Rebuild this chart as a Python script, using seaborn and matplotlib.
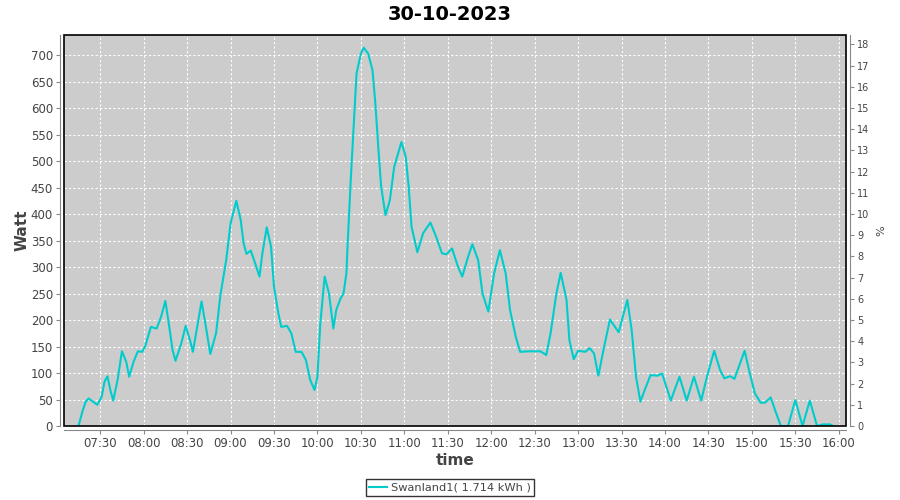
import matplotlib
matplotlib.use("Agg")
import matplotlib.pyplot as plt
import matplotlib.dates as mdates
from matplotlib.patches import Rectangle
import seaborn as sns
import pandas as pd

title = "30-10-2023"
series_name = "Swanland1( 1.714 kWh )"

times = ["07:15", "07:18", "07:20", "07:22", "07:28", "07:31", "07:33", "07:35",
         "07:37", "07:39", "07:42", "07:45", "07:48", "07:50", "07:53", "07:56",
         "07:59", "08:01", "08:05", "08:09", "08:12", "08:15", "08:17", "08:20",
         "08:22", "08:26", "08:29", "08:32", "08:34", "08:37", "08:40", "08:43",
         "08:46", "08:50", "08:53", "08:57", "09:00", "09:04", "09:07", "09:09",
         "09:11", "09:14", "09:17", "09:20", "09:22", "09:25", "09:28", "09:30",
         "09:33", "09:35", "09:39", "09:42", "09:45", "09:49", "09:52", "09:55",
         "09:58", "10:00", "10:02", "10:05", "10:08", "10:11", "10:13", "10:16",
         "10:18", "10:20", "10:21", "10:23", "10:25", "10:27", "10:30", "10:32",
         "10:35", "10:38", "10:40", "10:42", "10:44", "10:47", "10:50", "10:53",
         "10:58", "11:01", "11:03", "11:05", "11:09", "11:13", "11:18", "11:22",
         "11:26", "11:29", "11:33", "11:37", "11:40", "11:44", "11:47", "11:51",
         "11:54", "11:58", "12:02", "12:06", "12:10", "12:13", "12:17", "12:20",
         "12:26", "12:34", "12:38", "12:41", "12:45", "12:48", "12:52", "12:54",
         "12:57", "13:00", "13:05", "13:08", "13:11", "13:14", "13:18", "13:22",
         "13:28", "13:34", "13:37", "13:40", "13:43", "13:46", "13:50", "13:55",
         "13:58", "14:01", "14:04", "14:10", "14:15", "14:20", "14:25", "14:29",
         "14:34", "14:38", "14:41", "14:45", "14:48", "14:51", "14:55", "14:58",
         "15:02", "15:06", "15:09", "15:13", "15:16", "15:20", "15:25", "15:30",
         "15:35", "15:40", "15:45", "15:49", "15:54", "15:56"]
watts = [0, 30, 46, 52, 40, 55, 84, 94,
         68, 48, 87, 141, 121, 93, 121, 141,
         140, 150, 187, 184, 206, 236, 200, 143,
         123, 156, 189, 162, 140, 187, 235, 187,
         136, 175, 247, 313, 382, 425, 389, 345,
         325, 331, 307, 282, 326, 375, 338, 263,
         213, 187, 189, 175, 140, 140, 125, 87,
         68, 93, 194, 282, 250, 184, 219, 241,
         250, 288, 351, 464, 565, 665, 703, 714,
         703, 672, 609, 527, 452, 398, 426, 489,
         536, 508, 452, 376, 328, 364, 384, 357,
         326, 324, 335, 301, 282, 319, 343, 313,
         250, 216, 288, 332, 288, 219, 168, 140,
         141, 141, 134, 175, 250, 289, 238, 162,
         126, 142, 140, 147, 137, 95, 150, 201,
         177, 238, 181, 93, 46, 68, 96, 95,
         99, 74, 48, 93, 48, 93, 48, 93,
         142, 106, 90, 94, 89, 112, 142, 106,
         62, 44, 44, 54, 30, 0, 0, 49,
         0, 48, 0, 3, 3, 0]

x_ticks = ["07:30", "08:00", "08:30", "09:00", "09:30", "10:00", "10:30", "11:00",
           "11:30", "12:00", "12:30", "13:00", "13:30", "14:00", "14:30", "15:00",
           "15:30", "16:00"]
watt_ticks = list(range(0, 701, 50))
pct_ticks = list(range(0, 19))

day = "2023-10-30 "
df = pd.DataFrame({"time": pd.to_datetime([day + t for t in times]), "watt": watts})

fig = plt.figure(figsize=(9, 5), dpi=100)
ax = fig.add_axes([64 / 900, 1 - 426 / 500, (846 - 64) / 900, (426 - 35) / 500])
ax.set_facecolor("#cccccc")

sns.lineplot(data=df, x="time", y="watt", ax=ax, color="#00cccc", linewidth=1.5,
             label=series_name, legend=False, zorder=3)

ax.set_xlim(pd.Timestamp(day + "07:05"), pd.Timestamp(day + "16:05"))
ax.set_ylim(0, 738)
ax.set_xticks(pd.to_datetime([day + t for t in x_ticks]))
ax.xaxis.set_major_formatter(mdates.DateFormatter("%H:%M"))
ax.set_yticks(watt_ticks)

ax.grid(True, color="white", linestyle=(0, (2, 2)), linewidth=0.8)
ax.set_axisbelow(True)

tick_col = "#444444"
spine_col = "#888888"
for s in ["top", "right"]:
    ax.spines[s].set_visible(False)
for s in ["left", "bottom"]:
    ax.spines[s].set_position(("outward", 3))
    ax.spines[s].set_color(spine_col)
ax.tick_params(axis="both", colors=spine_col, labelcolor=tick_col, labelsize=8.5,
               length=3, width=0.8, pad=2)

ax.add_patch(Rectangle((0, 0), 1, 1, transform=ax.transAxes, fill=False,
                       edgecolor="black", linewidth=1.2, zorder=5, clip_on=False))

ax.set_xlabel("time", fontsize=11, fontweight="bold", color=tick_col, labelpad=2)
ax.set_ylabel("Watt", fontsize=11, fontweight="bold", color=tick_col, labelpad=1)

ax2 = ax.twinx()
ax2.set_ylim(0, 18.44)
ax2.set_yticks(pct_ticks)
for s in ["top", "left", "bottom"]:
    ax2.spines[s].set_visible(False)
ax2.spines["right"].set_position(("outward", 3))
ax2.spines["right"].set_color(spine_col)
ax2.tick_params(axis="y", colors=spine_col, labelcolor=tick_col, labelsize=7,
                length=3, width=0.8, pad=2)
ax2.set_ylabel("%", fontsize=8, color=tick_col, labelpad=5)

fig.suptitle(title, fontsize=14, fontweight="bold", y=0.972, va="center")

handles, labels = ax.get_legend_handles_labels()
leg = fig.legend(handles, labels, loc="center", bbox_to_anchor=(0.5, 0.025),
                 frameon=True, fancybox=False, edgecolor="black", fontsize=8.2,
                 handlelength=1.6, handletextpad=0.3, borderpad=0.3,
                 borderaxespad=0)
leg.get_frame().set_linewidth(1.0)
for t in leg.get_texts():
    t.set_color(tick_col)

fig.savefig("out.png", dpi=100)
